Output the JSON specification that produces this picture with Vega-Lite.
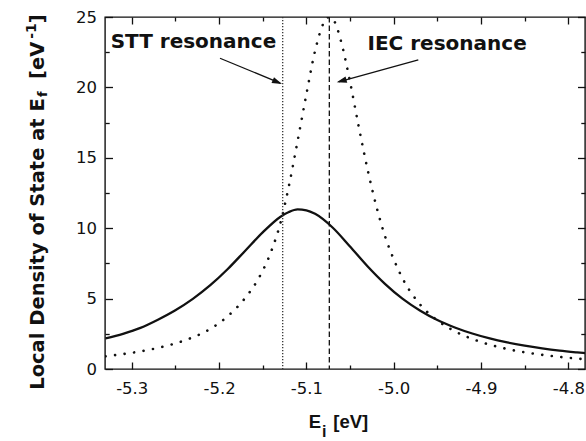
{
  "$schema": "https://vega.github.io/schema/vega-lite/v6.json",
  "width": 480,
  "height": 352,
  "autosize": {"type": "none"},
  "padding": {"left": 105, "top": 17, "right": 1, "bottom": 72},
  "background": "white",
  "config": {
    "view": {"stroke": "#111", "strokeWidth": 1.4},
    "axis": {"grid": false, "domain": false, "title": null, "tickColor": "#111", "tickWidth": 1.3, "labelColor": "#111", "labelFont": "DejaVu Sans", "labelFontSize": 16.5, "labelOverlap": false, "labelFlush": false}
  },
  "datasets": {
    "solid": [
      {"E": -5.33, "LDOS": 2.17}, {"E": -5.31, "LDOS": 2.50}, {"E": -5.29, "LDOS": 2.92}, {"E": -5.27, "LDOS": 3.50},
      {"E": -5.25, "LDOS": 4.17}, {"E": -5.23, "LDOS": 4.98}, {"E": -5.21, "LDOS": 5.95}, {"E": -5.19, "LDOS": 7.10},
      {"E": -5.17, "LDOS": 8.40}, {"E": -5.15, "LDOS": 9.70}, {"E": -5.13, "LDOS": 10.80}, {"E": -5.12, "LDOS": 11.15},
      {"E": -5.11, "LDOS": 11.33}, {"E": -5.10, "LDOS": 11.27}, {"E": -5.09, "LDOS": 11.02}, {"E": -5.07, "LDOS": 10.05},
      {"E": -5.05, "LDOS": 8.70}, {"E": -5.03, "LDOS": 7.30}, {"E": -5.01, "LDOS": 6.05}, {"E": -4.99, "LDOS": 5.00},
      {"E": -4.97, "LDOS": 4.16}, {"E": -4.95, "LDOS": 3.48}, {"E": -4.93, "LDOS": 2.95}, {"E": -4.91, "LDOS": 2.52},
      {"E": -4.89, "LDOS": 2.17}, {"E": -4.87, "LDOS": 1.89}, {"E": -4.85, "LDOS": 1.66}, {"E": -4.83, "LDOS": 1.47},
      {"E": -4.81, "LDOS": 1.31}, {"E": -4.79, "LDOS": 1.18}, {"E": -4.78, "LDOS": 1.12}
    ],
    "dotted": [
      {"E": -5.33, "LDOS": 0.90}, {"E": -5.30, "LDOS": 1.15}, {"E": -5.27, "LDOS": 1.50}, {"E": -5.24, "LDOS": 2.02},
      {"E": -5.21, "LDOS": 2.85}, {"E": -5.19, "LDOS": 3.75}, {"E": -5.17, "LDOS": 5.05}, {"E": -5.155, "LDOS": 6.40},
      {"E": -5.14, "LDOS": 8.40}, {"E": -5.13, "LDOS": 10.30}, {"E": -5.12, "LDOS": 13.00}, {"E": -5.11, "LDOS": 16.20},
      {"E": -5.10, "LDOS": 19.50}, {"E": -5.09, "LDOS": 22.60}, {"E": -5.08, "LDOS": 24.60}, {"E": -5.074, "LDOS": 25.00},
      {"E": -5.068, "LDOS": 24.70}, {"E": -5.06, "LDOS": 23.20}, {"E": -5.05, "LDOS": 20.40}, {"E": -5.04, "LDOS": 17.20},
      {"E": -5.03, "LDOS": 14.20}, {"E": -5.02, "LDOS": 11.60}, {"E": -5.01, "LDOS": 9.45}, {"E": -5.00, "LDOS": 7.80},
      {"E": -4.99, "LDOS": 6.45}, {"E": -4.97, "LDOS": 4.60}, {"E": -4.95, "LDOS": 3.45}, {"E": -4.93, "LDOS": 2.68},
      {"E": -4.90, "LDOS": 1.92}, {"E": -4.87, "LDOS": 1.42}, {"E": -4.84, "LDOS": 1.09}, {"E": -4.81, "LDOS": 0.86},
      {"E": -4.78, "LDOS": 0.69}
    ],
    "labels": [
      {"label": "STT resonance", "E": -5.3241, "LDOS": 22.83},
      {"label": "IEC resonance", "E": -5.0300, "LDOS": 22.63}
    ]
  },
  "resolve": {"axis": {"x": "independent", "y": "independent"}},
  "layer": [
    {
      "data": {"name": "solid"},
      "mark": {"type": "line", "color": "#111", "strokeWidth": 2.3, "interpolate": "monotone", "clip": true},
      "encoding": {
        "x": {"field": "E", "type": "quantitative",
          "scale": {"domain": [-5.3306, -4.7809], "nice": false, "zero": false},
          "axis": {"orient": "bottom", "values": [-5.3, -5.25, -5.2, -5.15, -5.1, -5.05, -5.0, -4.95, -4.9, -4.85, -4.8],
            "tickSize": {"condition": {"test": "abs(datum.value*10 - round(datum.value*10)) < 0.01", "value": -7}, "value": -4},
            "labelExpr": "abs(datum.value*10 - round(datum.value*10)) < 0.01 ? replace(format(datum.value, '.1f'), '\u2212', '-') : ''",
            "labelPadding": 18}},
        "y": {"field": "LDOS", "type": "quantitative",
          "scale": {"domain": [0, 25], "nice": false, "zero": false},
          "axis": {"orient": "left", "values": [0, 2.5, 5, 7.5, 10, 12.5, 15, 17.5, 20, 22.5, 25],
            "tickSize": {"condition": {"test": "datum.value % 5 == 0", "value": -7.5}, "value": -4.2},
            "labelExpr": "datum.value % 5 == 0 ? '' + datum.value : ''",
            "labelPadding": 16}}
      }
    },
    {
      "data": {"name": "dotted"},
      "mark": {"type": "line", "color": "#111", "strokeWidth": 2.6, "strokeDash": [0.1, 9.5], "strokeCap": "round", "interpolate": "monotone", "clip": true},
      "encoding": {
        "x": {"field": "E", "type": "quantitative",
          "axis": {"orient": "top", "labels": false, "values": [-5.3, -5.25, -5.2, -5.15, -5.1, -5.05, -5.0, -4.95, -4.9, -4.85, -4.8],
            "tickSize": {"condition": {"test": "abs(datum.value*10 - round(datum.value*10)) < 0.01", "value": -7}, "value": -4}}},
        "y": {"field": "LDOS", "type": "quantitative",
          "axis": {"orient": "right", "labels": false, "values": [0, 2.5, 5, 7.5, 10, 12.5, 15, 17.5, 20, 22.5, 25],
            "tickSize": {"condition": {"test": "datum.value % 5 == 0", "value": -7.5}, "value": -4.2}}}
      }
    },
    {
      "data": {"values": [{}]},
      "mark": {"type": "rule", "color": "#333", "strokeWidth": 1.3, "strokeDash": [1.2, 1.8]},
      "encoding": {"x": {"datum": -5.1271, "type": "quantitative", "axis": null}}
    },
    {
      "data": {"values": [{}]},
      "mark": {"type": "rule", "color": "#111", "strokeWidth": 1.3, "strokeDash": [5.5, 3]},
      "encoding": {"x": {"datum": -5.0737, "type": "quantitative", "axis": null}}
    },
    {
      "data": {"values": [{}]},
      "mark": {"type": "rule", "color": "#111", "strokeWidth": 1.3},
      "encoding": {
        "x": {"datum": -5.1989, "type": "quantitative", "axis": null},
        "y": {"datum": 22.07, "type": "quantitative", "axis": null},
        "x2": {"datum": -5.1300},
        "y2": {"datum": 20.31}
      }
    },
    {
      "data": {"values": [{}]},
      "mark": {"type": "point", "shape": "M0,0L-1,-0.32L-1,0.32Z", "size": 400, "angle": 22.7, "filled": true, "color": "#111", "opacity": 1},
      "encoding": {
        "x": {"datum": -5.1279, "type": "quantitative", "axis": null},
        "y": {"datum": 20.24, "type": "quantitative", "axis": null}
      }
    },
    {
      "data": {"values": [{}]},
      "mark": {"type": "rule", "color": "#111", "strokeWidth": 1.3},
      "encoding": {
        "x": {"datum": -4.9718, "type": "quantitative", "axis": null},
        "y": {"datum": 21.95, "type": "quantitative", "axis": null},
        "x2": {"datum": -5.0630},
        "y2": {"datum": 20.40}
      }
    },
    {
      "data": {"values": [{}]},
      "mark": {"type": "point", "shape": "M0,0L-1,-0.32L-1,0.32Z", "size": 400, "angle": 164.7, "filled": true, "color": "#111", "opacity": 1},
      "encoding": {
        "x": {"datum": -5.0652, "type": "quantitative", "axis": null},
        "y": {"datum": 20.36, "type": "quantitative", "axis": null}
      }
    },
    {
      "data": {"name": "labels"},
      "mark": {"type": "text", "font": "DejaVu Sans", "fontWeight": "bold", "fontSize": 20, "align": "left", "baseline": "alphabetic", "color": "#111"},
      "encoding": {
        "x": {"field": "E", "type": "quantitative", "axis": null},
        "y": {"field": "LDOS", "type": "quantitative", "axis": null},
        "text": {"field": "label"}
      }
    },
    {
      "data": {"values": [{}]},
      "mark": {"type": "text", "text": "Local Density of State at E", "font": "DejaVu Sans", "fontWeight": "bold", "fontSize": 19.5, "angle": 270, "align": "left", "baseline": "alphabetic", "color": "#111"},
      "encoding": {
        "x": {"datum": -5.4004, "type": "quantitative", "axis": null},
        "y": {"datum": -1.477, "type": "quantitative", "axis": null}
      }
    },
    {
      "data": {"values": [{}]},
      "mark": {"type": "text", "text": "f", "font": "DejaVu Sans", "fontWeight": "bold", "fontSize": 13, "angle": 270, "align": "left", "baseline": "alphabetic", "color": "#111"},
      "encoding": {
        "x": {"datum": -5.3970, "type": "quantitative", "axis": null},
        "y": {"datum": 19.32, "type": "quantitative", "axis": null}
      }
    },
    {
      "data": {"values": [{}]},
      "mark": {"type": "text", "text": "[eV", "font": "DejaVu Sans", "fontWeight": "bold", "fontSize": 19.5, "angle": 270, "align": "left", "baseline": "alphabetic", "color": "#111"},
      "encoding": {
        "x": {"datum": -5.4004, "type": "quantitative", "axis": null},
        "y": {"datum": 20.60, "type": "quantitative", "axis": null}
      }
    },
    {
      "data": {"values": [{}]},
      "mark": {"type": "text", "text": "-1", "font": "DejaVu Sans", "fontWeight": "bold", "fontSize": 14, "angle": 270, "align": "left", "baseline": "alphabetic", "color": "#111"},
      "encoding": {
        "x": {"datum": -5.4096, "type": "quantitative", "axis": null},
        "y": {"datum": 23.45, "type": "quantitative", "axis": null}
      }
    },
    {
      "data": {"values": [{}]},
      "mark": {"type": "text", "text": "]", "font": "DejaVu Sans", "fontWeight": "bold", "fontSize": 19.5, "angle": 270, "align": "left", "baseline": "alphabetic", "color": "#111"},
      "encoding": {
        "x": {"datum": -5.4004, "type": "quantitative", "axis": null},
        "y": {"datum": 24.55, "type": "quantitative", "axis": null}
      }
    },
    {
      "data": {"values": [{}]},
      "mark": {"type": "text", "text": "E", "font": "Liberation Sans", "fontWeight": "bold", "fontSize": 18.5, "align": "left", "baseline": "alphabetic", "color": "#111"},
      "encoding": {
        "x": {"datum": -5.0973, "type": "quantitative", "axis": null},
        "y": {"datum": -4.21, "type": "quantitative", "axis": null}
      }
    },
    {
      "data": {"values": [{}]},
      "mark": {"type": "text", "text": "i", "font": "Liberation Sans", "fontWeight": "bold", "fontSize": 16, "align": "left", "baseline": "alphabetic", "color": "#111"},
      "encoding": {
        "x": {"datum": -5.0821, "type": "quantitative", "axis": null},
        "y": {"datum": -4.83, "type": "quantitative", "axis": null}
      }
    },
    {
      "data": {"values": [{}]},
      "mark": {"type": "text", "text": "[eV]", "font": "Liberation Sans", "fontWeight": "bold", "fontSize": 18.5, "align": "left", "baseline": "alphabetic", "color": "#111"},
      "encoding": {
        "x": {"datum": -5.0692, "type": "quantitative", "axis": null},
        "y": {"datum": -4.21, "type": "quantitative", "axis": null}
      }
    }
  ]
}
